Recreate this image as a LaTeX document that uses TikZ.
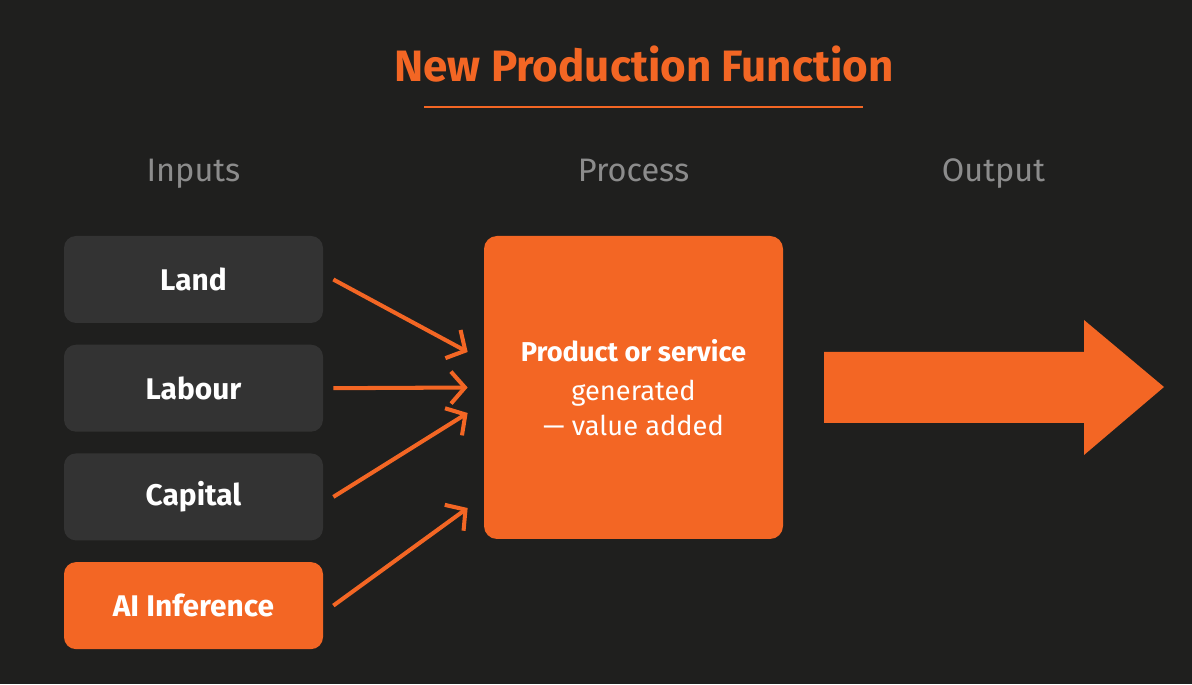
\documentclass[tikz,border=0pt]{standalone}
\usepackage{fontspec}
\setmainfont{Fira Sans}
\usepackage{xcolor}
\usetikzlibrary{arrows.meta, positioning, calc}

\definecolor{bgdark}{HTML}{1F1F1E}
\definecolor{boxgray}{HTML}{333333}
\definecolor{accent}{HTML}{F36624}
\definecolor{headgray}{HTML}{8C8C8C}

\begin{document}
\begin{tikzpicture}[
    node distance=0.42cm,
    box/.style={rectangle, rounded corners=0.24cm, minimum width=5.18cm, minimum height=1.74cm, text=white, font=\fontsize{17}{20}\selectfont\bfseries},
    head/.style={anchor=base, text=headgray, font=\fontsize{18.5}{22}\selectfont},
    arrow/.style={-{Straight Barb[length=2.8mm, width=6.4mm]}, accent, line width=2.3pt}
]

% background and frame
\fill[bgdark] (0,0) rectangle (23.84,13.68);
\useasboundingbox (0,0) rectangle (23.84,13.68);

% title
\node[text=accent, font=\fontsize{25}{28}\selectfont\bfseries] (title) at (12.88,12.40) {New Production Function};
\draw[accent, line width=1.2pt] (8.48,11.54) -- (17.26,11.54);

% column heads
\node[head] (hin) at (3.87,10.05) {Inputs};
\node[head] (hproc) at (12.67,10.05) {Process};
\node[head] (hout) at (19.87,10.05) {Output};

% inputs
\node[box, fill=boxgray] (land) at (3.87,8.09) {Land};
\node[box, fill=boxgray, below=of land] (labour) {Labour};
\node[box, fill=boxgray, below=of labour] (capital) {Capital};
\node[box, fill=accent, below=of capital] (ai) {AI Inference};

% process
\node[rectangle, rounded corners=0.26cm, fill=accent, minimum width=5.98cm, minimum height=6.06cm, text=white, align=center, font=\fontsize{15.5}{22}\selectfont] (proc) at (12.67,5.93)
    {\textbf{Product or service}\\generated\\[-2pt]--- value added};

\coordinate (t1) at ($(proc.west)+(-0.32,0.71)$);
\coordinate (t2) at ($(proc.west)+(-0.32,0)$);
\coordinate (t3) at ($(proc.west)+(-0.32,-0.51)$);
\coordinate (t4) at ($(proc.west)+(-0.32,-2.41)$);

\draw[arrow] ([xshift=0.2cm]land.east) -- (t1);
\draw[arrow] ([xshift=0.2cm]labour.east) -- (t2);
\draw[arrow] ([xshift=0.2cm]capital.east) -- (t3);
\draw[arrow] ([xshift=0.2cm]ai.east) -- (t4);

% output arrow
\fill[accent] (16.48,6.64) -- (21.68,6.64) -- (21.68,7.28) -- (23.28,5.94)
    -- (21.68,4.58) -- (21.68,5.22) -- (16.48,5.22) -- cycle;

\end{tikzpicture}
\end{document}
